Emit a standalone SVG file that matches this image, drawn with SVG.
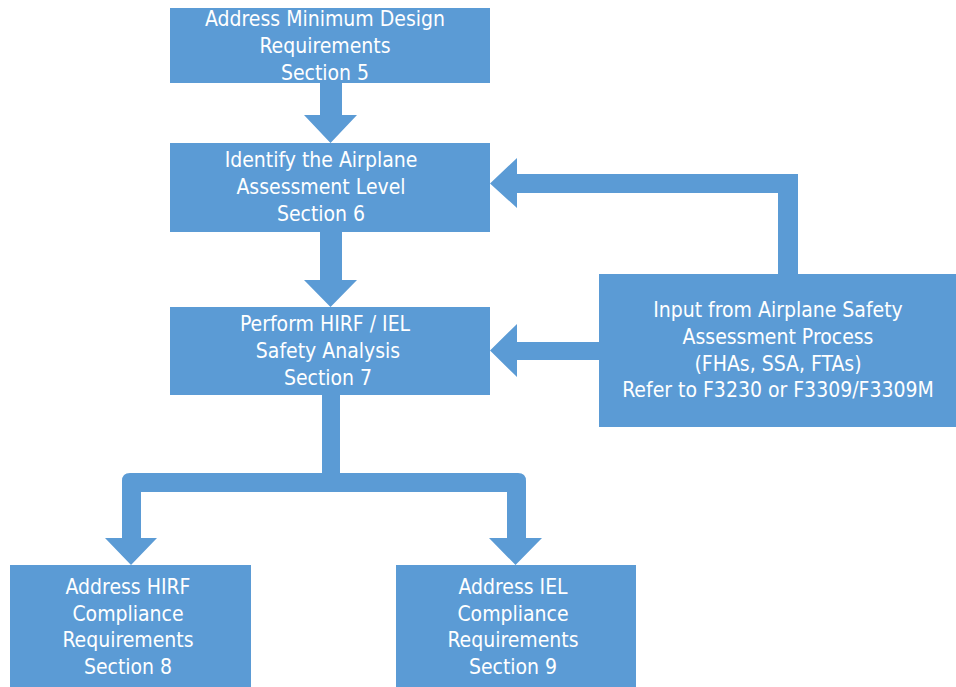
<svg xmlns="http://www.w3.org/2000/svg" width="956" height="687" viewBox="0 0 956 687">
<style>
.box{fill:#5B9BD5;}
.con{fill:#5B9BD5;}
text{font-family:"DejaVu Sans Condensed","DejaVu Sans","Liberation Sans",sans-serif;font-stretch:condensed;font-size:21px;fill:#ffffff;text-anchor:middle;}
</style>
<rect width="956" height="687" fill="#ffffff"/>
<g id="connectors">
<polygon class="con" points="320,83 342,83 342,115 357,115 330.5,143 304,115 320,115"/>
<polygon class="con" points="320,232 342,232 342,280 357,280 330.5,307 304,280 320,280"/>
<polygon class="con" points="798,274 798,174 517,174 517,158 490,183.5 517,208 517,193 778,193 778,274"/>
<polygon class="con" points="599,342 517,342 517,324 490,350.5 517,377 517,360 599,360"/>
<path class="con" d="M322,395 L340,395 L340,473 L518,473 Q526,473 526,481 L526,538 L542,538 L515.5,565 L489,538 L507,538 L507,492 L141,492 L141,538 L157,538 L131,565 L105,538 L122,538 L122,481 Q122,473 130,473 L322,473 Z"/>
</g>
<g id="node-section5">
<rect class="box" x="170" y="8" width="320" height="75"/>
<text x="325" y="26">Address Minimum Design</text>
<text x="325" y="53">Requirements</text>
<text x="325" y="80">Section 5</text>
</g>
<g id="node-section6">
<rect class="box" x="170" y="143" width="320" height="89"/>
<text x="321" y="167">Identify the Airplane</text>
<text x="321" y="194">Assessment Level</text>
<text x="321" y="221">Section 6</text>
</g>
<g id="node-section7">
<rect class="box" x="170" y="307" width="320" height="88"/>
<text x="325" y="331">Perform HIRF / IEL</text>
<text x="328" y="358">Safety Analysis</text>
<text x="328" y="385">Section 7</text>
</g>
<g id="node-input">
<rect class="box" x="599" y="274" width="357" height="153"/>
<text x="778" y="317">Input from Airplane Safety</text>
<text x="778" y="344">Assessment Process</text>
<text x="778" y="371">(FHAs, SSA, FTAs)</text>
<text x="778" y="397">Refer to F3230 or F3309/F3309M</text>
</g>
<g id="node-section8">
<rect class="box" x="10" y="565" width="241" height="122"/>
<text x="128" y="594">Address HIRF</text>
<text x="128" y="621">Compliance</text>
<text x="128" y="647">Requirements</text>
<text x="128" y="674">Section 8</text>
</g>
<g id="node-section9">
<rect class="box" x="396" y="565" width="240" height="122"/>
<text x="513" y="594">Address IEL</text>
<text x="513" y="621">Compliance</text>
<text x="513" y="647">Requirements</text>
<text x="513" y="674">Section 9</text>
</g>
</svg>
